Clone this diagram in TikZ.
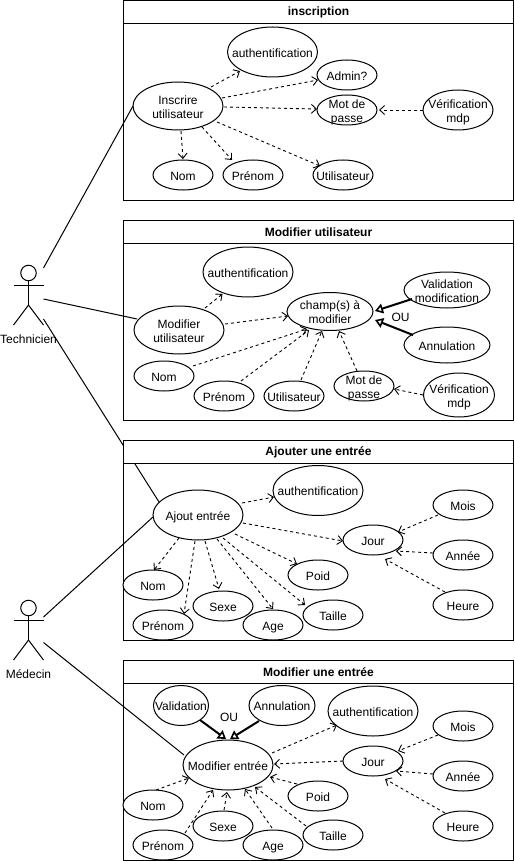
\documentclass[tikz,border=0pt]{standalone}
\usepackage{fontspec}
\setmainfont{Liberation Sans}
\usetikzlibrary{arrows.meta,shapes.geometric}
\tikzset{
  frame/.style={draw=black,line width=1pt,rectangle,minimum width=390pt,anchor=north west,inner sep=0pt,outer sep=0pt},
  ftitle/.style={draw=black,fill=white,line width=1pt,rectangle,minimum width=390pt,minimum height=23pt,anchor=north west,inner sep=0pt,outer sep=0pt,font=\fontsize{12}{14}\selectfont\bfseries},
  ucase/.style={draw=black,fill=white,line width=1pt,ellipse,inner sep=0pt,outer sep=0pt},
  txt/.style={inner sep=0pt,outer sep=0pt,font=\fontsize{12}{14}\selectfont},
  depline/.style={line width=0.9pt,dash pattern=on 3pt off 3pt,-{Straight Barb[length=5pt,width=9pt,line width=0.9pt]}},
  genline/.style={line width=2pt,-{Triangle[open,fill=white,length=8pt,width=10pt,line width=1.6pt]}},
  assoc/.style={line width=1pt},
  actorline/.style={line width=1pt}
}
\newcommand\uc[6]{\node[ucase,minimum width=#3pt,minimum height=#4pt] (#1) at (#2) {\smash{\raisebox{-5.6pt}{\makebox[0pt]{\fontsize{12}{14}\selectfont\begin{tabular}{@{}c@{}}#5\end{tabular}}}}};}
\newcommand\dep[4]{\draw[depline] ([shift={(#2)}]#1.center) -- ([shift={(#4)}]#3.center);}
\newcommand\gen[4]{\draw[genline] ([shift={(#2)}]#1.center) -- ([shift={(#4)}]#3.center);}
\newcommand\actor[3]{%
  \node[draw=black,line width=1pt,circle,minimum size=15.5pt,inner sep=0pt,outer sep=0pt] (#1h) at (#2) {};
  \coordinate (#1a) at ([shift={(0,12.5)}]#2);
  \coordinate (#1b) at ([shift={(0,32)}]#2);
  \draw[actorline] (#1h.south) -- (#1b);
  \draw[actorline] ([shift={(-15,0)}]#1a) -- ([shift={(15,0)}]#1a);
  \draw[actorline] ([shift={(-15,20)}]#1b) -- (#1b) -- ([shift={(15,20)}]#1b);
}
\begin{document}
\begin{tikzpicture}[x=1pt,y=-1pt]
\useasboundingbox (0,0) rectangle (514,861);
% frames
\node[frame,minimum height=199.5pt] (f1) at (123.5,0.5) {};
\node[frame,minimum height=199.5pt] (f2) at (123.5,220.5) {};
\node[frame,minimum height=199.5pt] (f3) at (123.5,440.5) {};
\node[frame,minimum height=199.5pt] (f4) at (123.5,660.5) {};
% actors
\actor{te}{28.5,273}{}
\actor{me}{28.5,608}{}
\node[txt] (tel) at (28.5,339.5) {Technicien};
\node[txt] (mel) at (28.5,674.5) {Médecin};
\coordinate (te1) at (43.5,268);
\coordinate (te2) at (43.5,299);
\coordinate (te3) at (43.5,319);
\coordinate (me1) at (43.5,617);
\coordinate (me2) at (43.5,642.5);
% inscription
\uc{aau}{272.5,52}{90}{50}{authentification}{}
\uc{aad}{347,75}{60}{30}{Admin?}{}
\uc{amp}{347,110}{60}{30}{Mot de\\passe}{}
\uc{ave}{458,110}{70}{40}{Vérification\\mdp}{}
\uc{ain}{178,106}{90}{48}{Inscrire\\utilisateur}{}
\uc{ano}{183,175}{60}{30}{Nom}{}
\uc{apr}{253,175}{60}{30}{Prénom}{}
\uc{aut}{343,175}{60}{30}{Utilisateur}{}
\dep{ain}{33,-19}{aau}{-32.5,19}
\dep{ain}{44,-8}{aad}{-29,5}
\dep{ain}{46,1}{amp}{-30,-1}
\dep{ain}{39,16}{aut}{-23,-9}
\dep{ain}{24,21}{apr}{-21,-15}
\dep{ain}{3,25}{ano}{0,-16}
\dep{ave}{-35,0}{amp}{32,0}
% modifier utilisateur
\uc{bau}{248,272}{90}{50}{authentification}{}
\uc{bmo}{179,330}{90}{48}{Modifier\\utilisateur}{}
\uc{bch}{330,311.5}{86}{38}{champ(s) à\\modifier}{}
\uc{bva}{447,290}{86}{36}{Validation\\modification}{}
\uc{ban}{447,345}{86}{36}{Annulation}{}
\uc{bno}{164,376}{60}{30}{Nom}{}
\uc{bpr}{224,396}{60}{30}{Prénom}{}
\uc{but}{294,396}{60}{30}{Utilisateur}{}
\uc{bmp}{364,386}{60}{30}{Mot de\\passe}{}
\uc{bve}{459,395}{71}{44}{Vérification\\mdp}{}
\node[txt] (bou) at (400.5,317) {OU};
\dep{bmo}{26,-22}{bau}{-25.5,22}
\dep{bmo}{46,-6}{bch}{-42,4.5}
\dep{bno}{29,-10}{bch}{-23,17.5}
\dep{bpr}{17,-15}{bch}{-21,18.5}
\dep{but}{7,-16}{bch}{-8,19.5}
\dep{bmp}{-7,-15}{bch}{9,19.5}
\dep{bve}{-36,0}{bmp}{30,3}
\gen{bva}{-35,9}{bch}{45,-0.5}
\gen{ban}{-34,-10}{bch}{45,8.5}
% ajouter une entree
\uc{cau}{318,490.5}{90}{50}{authentification}{}
\uc{caj}{198,515}{90}{50}{Ajout entrée}{}
\uc{cjo}{373,540}{60}{30}{Jour}{}
\uc{cmo}{463,505}{60}{30}{Mois}{}
\uc{can}{463,555}{60}{30}{Année}{}
\uc{che}{463,605}{60}{30}{Heure}{}
\uc{cpo}{318,575}{60}{30}{Poid}{}
\uc{cno}{153,585}{60}{30}{Nom}{}
\uc{cpr}{163,625}{60}{30}{Prénom}{}
\uc{cse}{223,606}{60}{30}{Sexe}{}
\uc{cag}{273,625}{60}{30}{Age}{}
\uc{cta}{333,615}{60}{30}{Taille}{}
\dep{caj}{44,-12}{cau}{-44,6.5}
\dep{caj}{45,8}{cjo}{-30,1}
\dep{caj}{37,19}{cpo}{-21,-11}
\dep{caj}{25,23}{cta}{-28,-10}
\dep{caj}{19,24}{cag}{0,-16}
\dep{caj}{7,26}{cse}{-4,-17}
\dep{caj}{-3,26}{cpr}{21,-11}
\dep{caj}{-19,23}{cno}{1,-15}
\dep{cmo}{-25,10}{cjo}{25,-8}
\dep{can}{-30,-2}{cjo}{23,11}
\dep{che}{-18,-13}{cjo}{12,19}
% modifier une entree
\uc{dva}{181,705.5}{55}{40}{Validation}{}
\uc{dan}{282,705.5}{66}{40}{Annulation}{}
\uc{dau}{373,711}{90}{50}{authentification}{}
\uc{dme}{228,765}{90}{50}{Modifier entrée}{}
\uc{djo}{373,761}{60}{30}{Jour}{}
\uc{dmo}{463,726}{60}{30}{Mois}{}
\uc{dye}{463,776}{60}{30}{Année}{}
\uc{dhe}{463,826}{60}{30}{Heure}{}
\uc{dpo}{318,796}{60}{30}{Poid}{}
\uc{dno}{153,805}{60}{30}{Nom}{}
\uc{dpr}{163,845}{60}{30}{Prénom}{}
\uc{dse}{223,826}{60}{30}{Sexe}{}
\uc{dag}{273,845}{60}{30}{Age}{}
\uc{dta}{333,835}{60}{30}{Taille}{}
\node[txt] (dou) at (229,717) {OU};
\gen{dva}{19,14.5}{dme}{-2,-26}
\gen{dan}{-23,15.5}{dme}{2,-26}
\dep{dme}{44,-12}{dau}{-36,14}
\dep{djo}{-30,0}{dme}{46,-1}
\dep{dpo}{-21,-12}{dme}{42,12}
\dep{dta}{-27,-9}{dme}{27,22}
\dep{dag}{-1,-17}{dme}{17,24}
\dep{dse}{1,-16}{dme}{-1,27}
\dep{dpr}{22,-12}{dme}{-15,25}
\dep{dno}{3,-15}{dme}{-39,13}
\dep{dmo}{-25,9}{djo}{25,-10}
\dep{dye}{-30,-2}{djo}{23,10}
\dep{dhe}{-18,-13}{djo}{12,18}
% actor associations
\draw[assoc] (te1) -- ([shift={(-45,0)}]ain.center);
\draw[assoc] (te2) -- ([shift={(-42,-11)}]bmo.center);
\draw[assoc] (te3) -- ([shift={(-39,-13)}]caj.center);
\draw[assoc] (me1) -- ([shift={(-45,2)}]caj.center);
\draw[assoc] (me2) -- ([shift={(-44,-10)}]dme.center);
% titles on top
\node[ftitle] (t1) at (123.5,0.5) {\raisebox{-3pt}{inscription}};
\node[ftitle] (t2) at (123.5,220.5) {\raisebox{-3pt}{Modifier utilisateur}};
\node[ftitle] (t3) at (123.5,440.5) {\raisebox{-3pt}{Ajouter une entrée}};
\node[ftitle] (t4) at (123.5,660.5) {\raisebox{-3pt}{Modifier une entrée}};
\end{tikzpicture}
\end{document}
